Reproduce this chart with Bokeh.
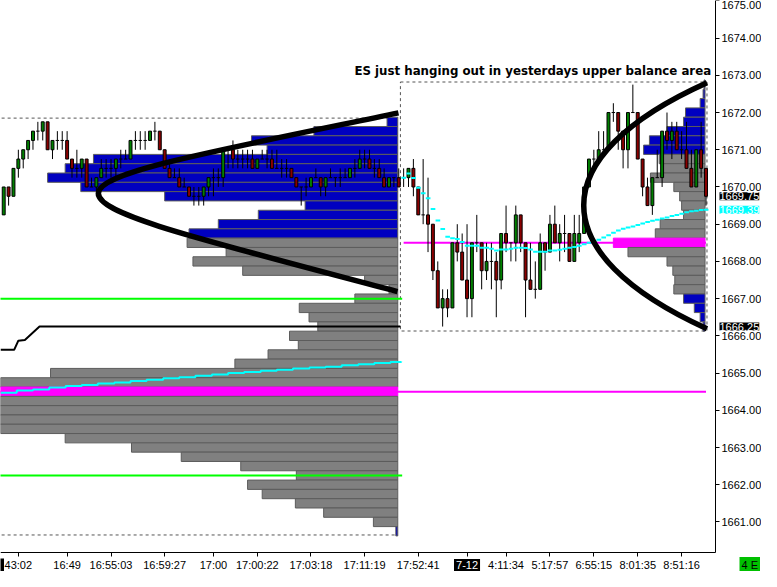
import numpy as np
from bokeh.plotting import figure
from bokeh.models import Range1d, FixedTicker, PrintfTickFormatter, Label, ColumnDataSource
from bokeh.embed import file_html
from bokeh.resources import INLINE

# ---------------- candles (bar index 0..144) ----------------
opens = [
    1669.25, 1670.0, 1669.75, 1670.5, 1670.75, 1671.0, 1671.25, 1671.5, 1671.5, 1671.75,
    1671.0, 1671.25, 1671.25, 1671.25, 1670.75, 1670.5, 1670.5, 1670.75, 1670.0, 1670.0,
    1670.25, 1670.5, 1670.5, 1670.5, 1670.75, 1670.75, 1670.75, 1671.25, 1671.25, 1671.25,
    1671.25, 1671.5, 1671.5, 1671.0, 1670.5, 1670.25, 1670.25, 1670.0, 1670.0, 1669.75,
    1669.75, 1669.75, 1670.0, 1670.25, 1670.25, 1670.25, 1671.0, 1671.0, 1670.75, 1670.75,
    1670.75, 1670.75, 1670.5, 1670.75, 1670.75, 1670.75, 1670.5, 1670.5, 1670.5, 1670.5,
    1670.25, 1670.0, 1670.0, 1670.0, 1670.25, 1670.25, 1670.0, 1670.25, 1670.25, 1670.25,
    1670.25, 1670.25, 1670.5, 1670.5, 1670.75, 1670.75, 1670.5, 1670.5, 1670.25, 1670.0,
    1670.25, 1670.25,
    1670.25, 1670.25, 1670.5, 1670.0, 1669.25, 1669.25, 1669.0, 1667.75, 1666.75, 1667.0,
    1666.75, 1668.5, 1668.25, 1667.5, 1667.0, 1668.5, 1668.5, 1667.75, 1668.0, 1668.0,
    1667.5, 1668.75, 1668.5, 1668.5, 1669.25, 1668.5, 1667.5, 1667.25, 1667.25, 1668.5,
    1668.25, 1669.0, 1668.5, 1668.75, 1668.75, 1668.0, 1668.5, 1668.75, 1670.0, 1670.75,
    1670.75, 1671.0, 1671.0, 1672.0, 1672.0, 1671.5, 1671.0, 1672.0, 1672.0, 1670.75,
    1670.0, 1669.5, 1670.25, 1670.25, 1671.5, 1671.25, 1671.5, 1671.0, 1671.0, 1670.5,
    1670.0, 1671.0, 1670.5,
]
highs = [
    1670.0, 1670.0, 1670.5, 1671.0, 1671.0, 1671.25, 1671.5, 1671.75, 1671.75, 1671.75,
    1671.25, 1671.5, 1671.5, 1671.5, 1670.75, 1671.0, 1670.75, 1670.75, 1670.25, 1670.25,
    1670.75, 1670.75, 1670.75, 1670.75, 1671.0, 1671.0, 1671.25, 1671.5, 1671.5, 1671.5,
    1671.5, 1671.75, 1671.5, 1671.0, 1670.75, 1670.5, 1670.5, 1670.25, 1670.0, 1670.0,
    1670.0, 1670.0, 1670.25, 1670.5, 1670.5, 1671.0, 1671.0, 1671.25, 1671.0, 1671.0,
    1671.0, 1671.0, 1670.75, 1671.0, 1671.0, 1671.0, 1671.0, 1670.75, 1670.75, 1670.5,
    1670.25, 1670.0, 1670.25, 1670.25, 1670.5, 1670.25, 1670.25, 1670.5, 1670.25, 1670.5,
    1670.5, 1670.5, 1670.75, 1671.0, 1671.0, 1671.0, 1670.75, 1670.75, 1670.5, 1670.25,
    1670.25, 1670.5,
    1670.5, 1670.5, 1670.75, 1670.0, 1670.75, 1670.25, 1669.0, 1668.0, 1667.25, 1667.25,
    1668.5, 1669.0, 1668.75, 1669.0, 1668.5, 1669.25, 1668.5, 1668.5, 1668.5, 1668.25,
    1668.75, 1669.5, 1668.5, 1669.5, 1669.25, 1668.5, 1668.5, 1668.0, 1668.75, 1668.5,
    1669.25, 1669.5, 1669.0, 1669.25, 1668.75, 1669.25, 1669.25, 1670.0, 1670.75, 1671.0,
    1671.5, 1671.5, 1672.0, 1672.25, 1672.0, 1671.5, 1672.0, 1672.75, 1672.0, 1670.75,
    1670.25, 1670.25, 1671.0, 1671.5, 1672.0, 1671.75, 1671.75, 1671.5, 1671.75, 1671.0,
    1671.0, 1671.75, 1670.5,
]
lows = [
    1669.25, 1669.5, 1669.75, 1670.25, 1670.5, 1670.75, 1671.0, 1671.25, 1671.25, 1671.0,
    1670.75, 1671.0, 1671.0, 1670.75, 1670.25, 1670.25, 1670.25, 1670.0, 1670.0, 1669.75,
    1670.25, 1670.25, 1670.25, 1670.25, 1670.5, 1670.75, 1670.75, 1671.0, 1671.0, 1671.0,
    1671.25, 1671.25, 1671.0, 1670.5, 1670.25, 1670.25, 1670.0, 1670.0, 1669.75, 1669.5,
    1669.5, 1669.5, 1669.75, 1669.75, 1670.0, 1670.0, 1670.5, 1670.5, 1670.5, 1670.5,
    1670.5, 1670.5, 1670.5, 1670.75, 1670.5, 1670.5, 1670.5, 1670.25, 1670.25, 1670.25,
    1670.0, 1669.5, 1669.75, 1670.0, 1670.25, 1669.75, 1669.75, 1670.25, 1670.0, 1670.0,
    1670.25, 1670.25, 1670.25, 1670.5, 1670.5, 1670.5, 1670.25, 1670.25, 1670.0, 1670.0,
    1670.0, 1670.0,
    1670.0, 1670.0, 1669.75, 1669.25, 1669.0, 1668.25, 1667.5, 1666.75, 1666.25, 1666.5,
    1666.75, 1668.0, 1667.5, 1666.5, 1666.5, 1668.25, 1667.25, 1667.5, 1667.25, 1666.5,
    1667.25, 1668.25, 1668.0, 1668.0, 1668.25, 1666.5, 1667.25, 1667.0, 1667.25, 1667.75,
    1668.25, 1668.5, 1668.0, 1668.25, 1668.0, 1668.0, 1668.25, 1668.75, 1670.0, 1670.5,
    1670.75, 1671.0, 1671.0, 1671.75, 1671.0, 1670.5, 1670.5, 1672.0, 1670.75, 1669.75,
    1669.5, 1669.25, 1670.25, 1670.0, 1671.0, 1670.75, 1671.0, 1670.75, 1670.5, 1670.0,
    1670.0, 1670.25, 1669.5,
]
closes = [
    1670.0, 1669.75, 1670.5, 1670.75, 1671.0, 1671.25, 1671.5, 1671.5, 1671.75, 1671.0,
    1671.25, 1671.25, 1671.25, 1670.75, 1670.5, 1670.5, 1670.75, 1670.0, 1670.0, 1670.25,
    1670.5, 1670.5, 1670.5, 1670.75, 1670.75, 1670.75, 1671.25, 1671.25, 1671.25, 1671.25,
    1671.5, 1671.5, 1671.0, 1670.5, 1670.25, 1670.25, 1670.0, 1670.0, 1669.75, 1669.75,
    1669.75, 1670.0, 1670.25, 1670.25, 1670.25, 1671.0, 1671.0, 1670.75, 1670.75, 1670.75,
    1670.75, 1670.5, 1670.75, 1670.75, 1670.75, 1670.5, 1670.5, 1670.5, 1670.5, 1670.25,
    1670.0, 1670.0, 1670.0, 1670.25, 1670.25, 1670.0, 1670.25, 1670.25, 1670.25, 1670.25,
    1670.25, 1670.5, 1670.5, 1670.75, 1670.75, 1670.5, 1670.5, 1670.25, 1670.0, 1670.25,
    1670.25, 1670.0,
    1670.25, 1670.5, 1670.0, 1669.25, 1669.25, 1669.0, 1667.75, 1666.75, 1667.0, 1666.75,
    1668.5, 1668.25, 1667.5, 1667.0, 1668.5, 1668.5, 1667.75, 1668.0, 1668.0, 1667.5,
    1668.75, 1668.5, 1668.5, 1669.25, 1668.5, 1667.5, 1667.25, 1667.25, 1668.5, 1668.25,
    1669.0, 1668.5, 1668.75, 1668.75, 1668.0, 1668.75, 1668.75, 1670.0, 1670.75, 1670.75,
    1671.0, 1671.0, 1672.0, 1672.0, 1671.5, 1671.0, 1672.0, 1672.0, 1670.75, 1670.0,
    1669.5, 1670.25, 1670.25, 1671.5, 1671.25, 1671.5, 1671.0, 1671.0, 1670.5, 1670.0,
    1671.0, 1670.5, 1669.75,
]

# x-axis tick labels (bar index -> time text)
tick_bars = [3, 13, 22, 33, 43, 52, 63, 74, 85, 95, 103, 112, 121, 130, 139]
tick_labels = ["43:02", "16:49", "16:55:03", "16:59:27", "17:00", "17:00:22", "17:03:18",
               "17:11:19", "17:52:41", "7-12", "4:11:34", "5:17:57", "6:55:15", "8:01:35", "8:51:16"]
date_tick = "7-12"
status_text = "4 E"

# y-axis ticks
y_ticks = [1661, 1662, 1663, 1664, 1665, 1666, 1667, 1668, 1669, 1670, 1671, 1672, 1673, 1674, 1675]

# ---------------- volume profiles ----------------
yday_prices = [1671.75, 1671.5, 1671.25, 1671.0, 1670.75, 1670.5, 1670.25, 1670.0, 1669.75,
               1669.5, 1669.25, 1669.0, 1668.75, 1668.5, 1668.25, 1668.0, 1667.75, 1667.5,
               1667.25, 1667.0, 1666.75, 1666.5, 1666.25, 1666.0, 1665.75, 1665.5, 1665.25,
               1665.0, 1664.75, 1664.5, 1664.25, 1664.0, 1663.75, 1663.5, 1663.25, 1663.0,
               1662.75, 1662.5, 1662.25, 1662.0, 1661.75, 1661.5, 1661.25, 1661.0, 1660.75]
yday_volume = [11, 86, 150, 134, 312, 341, 359, 325, 239, 95, 143, 184, 214, 216, 176, 210, 159,
               34, 9, 44, 101, 91, 82, 111, 102, 133, 167, 356, 430, 470, 440, 425, 420, 412,
               341, 273, 222, 161, 104, 154, 139, 105, 76, 25, 2]
yday_va = (1661.0, 1668.5)
yday_poc = 1664.5

today_prices = [1672.75, 1672.5, 1672.25, 1672.0, 1671.75, 1671.5, 1671.25, 1671.0, 1670.75,
                1670.5, 1670.25, 1670.0, 1669.75, 1669.5, 1669.25, 1669.0, 1668.75, 1668.5,
                1668.25, 1668.0, 1667.75, 1667.5, 1667.25, 1667.0, 1666.75, 1666.5, 1666.25]
today_volume = [1, 2, 5, 20, 22, 39, 57, 63, 47, 44, 56, 32, 26, 24, 22, 46, 51, 94, 79, 39,
                33, 31, 32, 22, 11, 5, 2]
today_va = (1667.25, 1670.75)
today_poc = 1668.5

# ---------------- indicator lines ----------------
yday_vwap_bars = [-0.66, 2.67, 6.0, 9.34, 12.7, 16.0, 19.3, 22.7, 26.0, 29.3, 32.7, 36.0, 39.3,
                  42.7, 46.0, 49.3, 52.7, 56.0, 59.3, 62.7, 66.0, 69.3, 72.7, 76.0, 79.3, 81.5]
yday_vwap = [1664.47, 1664.53, 1664.56, 1664.61, 1664.65, 1664.68, 1664.72, 1664.75, 1664.79,
             1664.82, 1664.86, 1664.89, 1664.93, 1664.96, 1665.00, 1665.03, 1665.06, 1665.09,
             1665.12, 1665.15, 1665.17, 1665.21, 1665.24, 1665.27, 1665.30, 1665.31]
today_vwap = [1670.25, 1670.36, 1670.24, 1669.98, 1669.83, 1669.70, 1669.41, 1669.10, 1668.87, 1668.66,
              1668.62, 1668.60, 1668.52, 1668.42, 1668.42, 1668.42, 1668.37, 1668.37, 1668.34, 1668.29,
              1668.32, 1668.32, 1668.34, 1668.37, 1668.37, 1668.36, 1668.32, 1668.26, 1668.26, 1668.26,
              1668.29, 1668.29, 1668.31, 1668.34, 1668.37, 1668.39, 1668.42, 1668.46, 1668.50, 1668.54,
              1668.58, 1668.64, 1668.70, 1668.77, 1668.83, 1668.88, 1668.91, 1668.94, 1668.98, 1669.02,
              1669.06, 1669.09, 1669.12, 1669.15, 1669.18, 1669.22, 1669.25, 1669.28, 1669.32, 1669.35,
              1669.36, 1669.38, 1669.39]
level_bars = [-0.66, 2.14, 3.0, 4.34, 7.34, 81.34]
level_vals = [1665.625, 1665.625, 1665.87, 1665.89, 1666.25, 1666.25]
green_levels = [1667.0, 1662.25]

# hand-drawn arcs (x0, y0, x1, y1, cx0, cy0, cx1, cy1) in bar / price units
arc_x0 = [80.94, 144.2]
arc_y0 = [1671.99, 1672.80]
arc_x1 = [80.74, 144.2]
arc_y1 = [1667.19, 1666.19]
arc_cx0 = [-1.06, 110.5]
arc_cy0 = [1669.77, 1670.82]
arc_cx1 = [-1.06, 110.5]
arc_cy1 = [1670.03, 1668.20]

title_text = "ES just hanging out in yesterdays upper balance area"

# ---------------- figure ----------------
W, H = 761, 571
PPX = 4.877   # px per bar
PPY = 37.22   # px per point
X_LO = -0.66
X_AX = X_LO + 715 / PPX          # position of the price axis
X_HI = X_LO + W / PPX
Y_HI = 1675.01
Y_AX = Y_HI - 552 / PPY          # position of the time axis
Y_LO = Y_HI - H / PPY

p = figure(width=W, height=H, x_range=Range1d(X_LO, X_HI), y_range=Range1d(Y_LO, Y_HI),
           output_backend="svg", toolbar_location=None, y_axis_location="right",
           min_border_left=0, min_border_top=0, min_border_right=0, min_border_bottom=0)
p.xgrid.visible = False
p.ygrid.visible = False
p.outline_line_color = None
p.background_fill_color = "white"
p.border_fill_color = "white"

for ax in (p.xaxis[0], p.yaxis[0]):
    ax.major_label_text_font = "Liberation Sans"
    ax.major_label_text_font_size = "11px"
    ax.major_label_text_color = "black"
    ax.axis_line_color = "black"
    ax.major_tick_line_color = "black"
    ax.major_tick_out = 4
    ax.major_tick_in = 0
    ax.minor_tick_out = 0
    ax.minor_tick_in = 0
    ax.major_label_standoff = 2

p.yaxis.fixed_location = X_AX
p.yaxis.bounds = (Y_AX, Y_HI)
p.xaxis.fixed_location = Y_AX
p.xaxis.bounds = (X_LO, X_AX)
p.yaxis.ticker = FixedTicker(ticks=y_ticks)
p.yaxis.formatter = PrintfTickFormatter(format="%.2f")
p.xaxis.ticker = FixedTicker(ticks=tick_bars)
p.xaxis.major_label_overrides = {b: ("" if t == date_tick else t) for b, t in zip(tick_bars, tick_labels)}

# session boxes (dashed)
hi_y, lo_y = max(highs[:82]), min(yday_prices)
hi_t, lo_t = max(highs[82:]), min(lows[82:])
p.segment(x0=[X_LO - 1, X_LO - 1], y0=[hi_y + 0.1, lo_y - 0.1], x1=[80.8, 80.8],
          y1=[hi_y + 0.1, lo_y - 0.1], line_color="#555555", line_dash="3 3", line_width=1)
p.quad(left=[81.34], right=[144.2], top=[hi_t + 0.07], bottom=[lo_t - 0.12],
       fill_color=None, line_color="#555555", line_dash="3 3", line_width=1)

# profiles
VOL_SCALE = 0.2
def profile(prices, vols, va, poc, anchor):
    pr = np.array(prices)
    vol = np.array(vols, dtype=float)
    fills, lines = [], []
    for v in prices:
        if v == poc:
            fills.append("#ff00ff"); lines.append("#ff00ff")
        elif va[0] <= v <= va[1]:
            fills.append("#808080"); lines.append("#5c5c5c")
        else:
            fills.append("#0000c0"); lines.append("#5c5c5c")
    left = np.maximum(anchor - vol * VOL_SCALE, X_LO - 2)
    src = ColumnDataSource(dict(y=pr, left=left, right=np.full(len(pr), anchor),
                                fill=fills, line=lines))
    p.hbar(y="y", height=0.25, left="left", right="right", fill_color="fill",
           line_color="line", line_width=1, source=src)

profile(yday_prices, yday_volume, yday_va, yday_poc, 80.8)
profile(today_prices, today_volume, today_va, today_poc, 143.8)

# level lines
p.segment(x0=[X_LO - 1] * 2, y0=green_levels, x1=[81.7] * 2, y1=green_levels,
          line_color="#00ff00", line_width=2)
p.segment(x0=[X_LO - 1, 82.0], y0=[yday_poc, today_poc], x1=[144.0, 144.0], y1=[yday_poc, today_poc],
          line_color="#ff00ff", line_width=2)
p.line(level_bars, level_vals, line_color="black", line_width=2)

# candles
x = np.arange(len(opens))
o = np.array(opens); h = np.array(highs); l = np.array(lows); c = np.array(closes)
up = c > o; dn = c < o; dj = c == o
p.segment(x0=x, y0=l, x1=x, y1=h, line_color="black", line_width=1)
p.vbar(x=x[up], width=0.6, bottom=o[up], top=c[up], fill_color="#008000", line_color="black", line_width=1)
p.vbar(x=x[dn], width=0.6, bottom=c[dn], top=o[dn], fill_color="#8b0000", line_color="black", line_width=1)
p.segment(x0=x[dj] - 0.35, y0=o[dj], x1=x[dj] + 0.35, y1=o[dj], line_color="black", line_width=1)

# vwaps
p.step(yday_vwap_bars, yday_vwap, mode="after", line_color="#00ffff", line_width=2)
tb = np.arange(82, 82 + len(today_vwap))
p.segment(x0=tb - 0.45, y0=today_vwap, x1=tb + 0.5, y1=today_vwap, line_color="#00ffff", line_width=2)

# arcs
p.bezier(x0=arc_x0, y0=arc_y0, x1=arc_x1, y1=arc_y1, cx0=arc_cx0, cy0=arc_cy0,
         cx1=arc_cx1, cy1=arc_cy1, line_color="black", line_width=5.5)

# title annotation
p.add_layout(Label(x=71.9, y=1673.12, text=title_text, text_font="DejaVu Sans",
                   text_font_style="bold", text_font_size="11.8px", text_color="black",
                   text_align="left", text_baseline="middle"))

# right-axis price markers
for val, bg in [(closes[-1], "black"), (today_vwap[-1], "#00ffff"), (level_vals[-1], "black")]:
    p.add_layout(Label(x=X_AX, y=val, x_offset=4, text="%.2f" % val, text_font="Liberation Sans",
                       text_font_size="11px", text_color="white", text_align="left",
                       text_baseline="middle", background_fill_color=bg, padding=0))

# date marker / status box on the time axis
yb = Y_AX - 12.5 / PPY
p.add_layout(Label(x=tick_bars[tick_labels.index(date_tick)], y=yb, text=date_tick,
                   text_font="Liberation Sans", text_font_size="11px", text_color="white",
                   text_align="center", text_baseline="middle", background_fill_color="black",
                   padding=2))
p.quad(left=[X_LO - 1], right=[X_LO + 3.5 / PPX], top=[Y_AX - 6 / PPY], bottom=[Y_AX - 19 / PPY],
       fill_color="black", line_color=None)
p.add_layout(Label(x=X_AX + 24.0 / PPX, y=yb, text=status_text, text_font="Liberation Sans",
                   text_font_size="11px", text_color="black", text_align="left",
                   text_baseline="middle", background_fill_color="#00c000", padding=2))

open("out.html", "w").write(file_html(p, INLINE))
